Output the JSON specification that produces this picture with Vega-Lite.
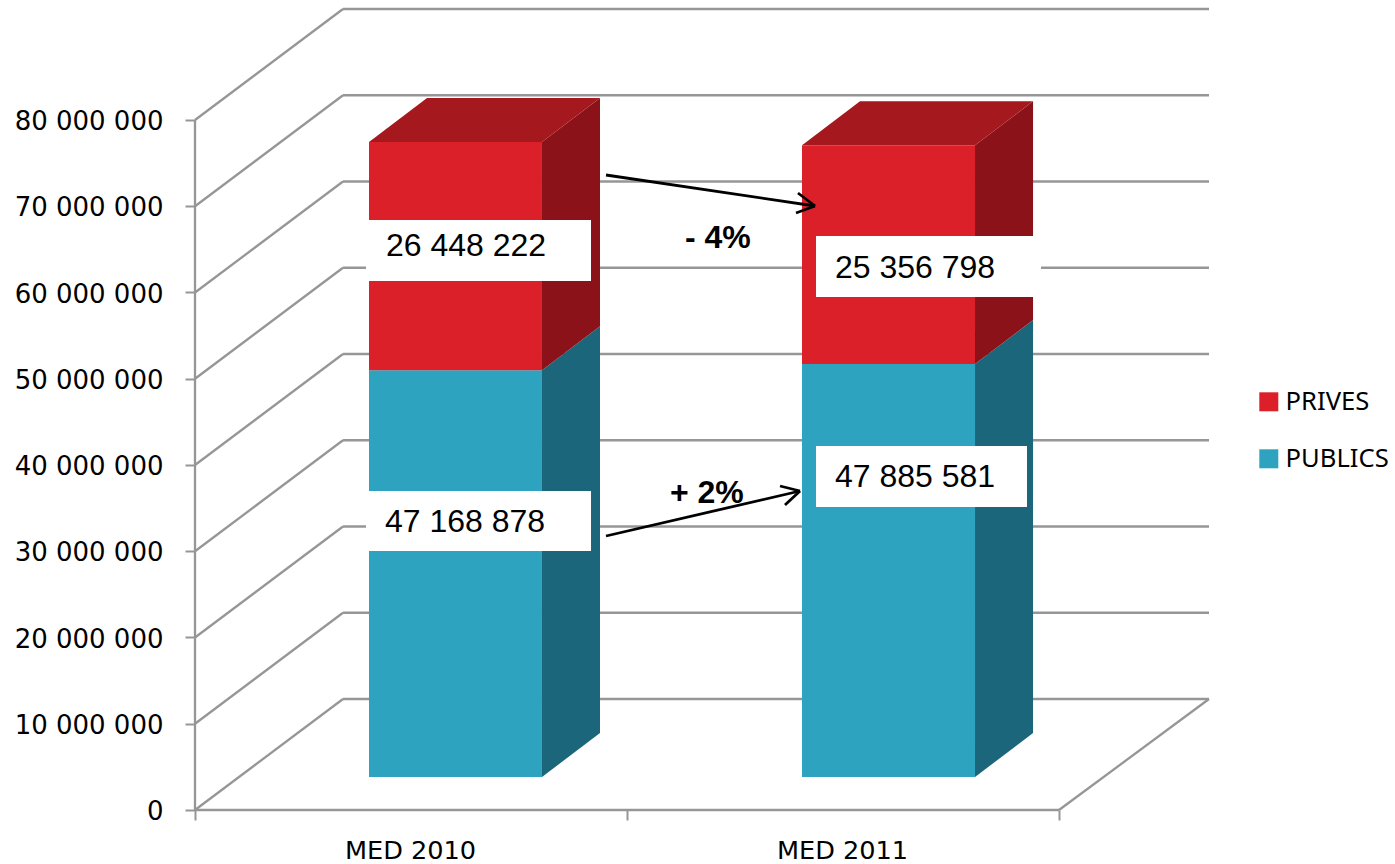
{
"$schema":"https://vega.github.io/schema/vega-lite/v6.json",
"autosize":"none",
"padding":{"left":195,"top":9,"right":186,"bottom":54},
"width":1014,"height":801,
"background":"white",
"config":{"view":{"stroke":null}},
"encoding":{
 "x":{"field":"x","type":"quantitative","title":null,"scale":{"domain":[0,2.34722],"nice":false,"zero":false},
  "axis":{"values":[0,0.5,1,1.5,2],"domain":false,"grid":false,"tickColor":"#969696","tickWidth":2,"tickSize":10,
   "tickOpacity":{"condition":{"test":"datum.value==0.5||datum.value==1.5","value":0},"value":1},
   "labelExpr":"datum.value==0.5?'MED 2010':datum.value==1.5?'MED 2011':''","labelFont":"DejaVu Sans","labelFontSize":25.6,"labelColor":"#000000","labelPadding":18,"labelOffset":-1,"labelOverlap":false,"labelFlush":false,"labelBound":false}},
 "y":{"field":"y","type":"quantitative","title":null,"scale":{"domain":[0,92869565],"nice":false,"zero":false},
  "axis":{"values":[0,10000000,20000000,30000000,40000000,50000000,60000000,70000000,80000000],"domain":false,"grid":false,"tickColor":"#969696","tickWidth":2,"tickSize":10,
   "labelExpr":"replace(format(datum.value,','),/,/g,' ')","labelFont":"DejaVu Sans","labelFontSize":26,"labelColor":"#000000","labelPadding":22,"labelOffset":1.5,"labelOverlap":false,"labelBound":false}}
},
"layer":[
 {"data":{"values":[
  {"x":0,"y":0,"x2":0.3426,"y2":12869565},{"x":0.3426,"y":12869565,"x2":2.34722,"y2":12869565},
  {"x":0,"y":10000000,"x2":0.3426,"y2":22869565},{"x":0.3426,"y":22869565,"x2":2.34722,"y2":22869565},
  {"x":0,"y":20000000,"x2":0.3426,"y2":32869565},{"x":0.3426,"y":32869565,"x2":2.34722,"y2":32869565},
  {"x":0,"y":30000000,"x2":0.3426,"y2":42869565},{"x":0.3426,"y":42869565,"x2":2.34722,"y2":42869565},
  {"x":0,"y":40000000,"x2":0.3426,"y2":52869565},{"x":0.3426,"y":52869565,"x2":2.34722,"y2":52869565},
  {"x":0,"y":50000000,"x2":0.3426,"y2":62869565},{"x":0.3426,"y":62869565,"x2":2.34722,"y2":62869565},
  {"x":0,"y":60000000,"x2":0.3426,"y2":72869565},{"x":0.3426,"y":72869565,"x2":2.34722,"y2":72869565},
  {"x":0,"y":70000000,"x2":0.3426,"y2":82869565},{"x":0.3426,"y":82869565,"x2":2.34722,"y2":82869565},
  {"x":0,"y":80000000,"x2":0.3426,"y2":92869565},{"x":0.3426,"y":92869565,"x2":2.34722,"y2":92869565},
  {"x":0,"y":0,"x2":0,"y2":80000000},{"x":0,"y":0,"x2":2,"y2":0},{"x":2,"y":0,"x2":2.34722,"y2":12869565}
  ]},
  "mark":{"type":"rule","color":"#969696","strokeWidth":2.3},
  "encoding":{"x2":{"field":"x2"},"y2":{"field":"y2"}}},
 {"data":{"values":[
  {"bar":"2010","x":0.8032,"y":3826000,"y2":50994878},{"bar":"2010","x":0.9375,"y":8927000,"y2":56095878},
  {"bar":"2011","x":1.8056,"y":3826000,"y2":51711581},{"bar":"2011","x":1.9399,"y":8927000,"y2":56812581}
  ]},
  "mark":{"type":"area","color":"#1c667c","opacity":1},
  "encoding":{"y2":{"field":"y2"},"detail":{"field":"bar"}}},
 {"data":{"values":[
  {"bar":"2010","x":0.8032,"y":50994878,"y2":77443100},{"bar":"2010","x":0.9375,"y":56095878,"y2":82544100},
  {"bar":"2011","x":1.8056,"y":51711581,"y2":77068379},{"bar":"2011","x":1.9399,"y":56812581,"y2":82169379}
  ]},
  "mark":{"type":"area","color":"#8a1218","opacity":1},
  "encoding":{"y2":{"field":"y2"},"detail":{"field":"bar"}}},
 {"data":{"values":[
  {"bar":"2010","x":0.4028,"y":77443100,"y2":77443100},{"bar":"2010","x":0.5371,"y":82544100,"y2":77443100},{"bar":"2010","x":0.8032,"y":82544100,"y2":77443100},{"bar":"2010","x":0.9375,"y":82544100,"y2":82544100},
  {"bar":"2011","x":1.4051,"y":77068379,"y2":77068379},{"bar":"2011","x":1.5394,"y":82169379,"y2":77068379},{"bar":"2011","x":1.8056,"y":82169379,"y2":77068379},{"bar":"2011","x":1.9399,"y":82169379,"y2":82169379}
  ]},
  "mark":{"type":"area","color":"#a5181e","opacity":1},
  "encoding":{"y2":{"field":"y2"},"detail":{"field":"bar"}}},
 {"data":{"values":[
  {"annee":"MED 2010","serie":"PUBLICS","value":47168878,"x":0.4028,"x2":0.8032,"y":3826000,"y2":50994878},
  {"annee":"MED 2010","serie":"PRIVES","value":26448222,"x":0.4028,"x2":0.8032,"y":50994878,"y2":77443100},
  {"annee":"MED 2011","serie":"PUBLICS","value":47885581,"x":1.4051,"x2":1.8056,"y":3826000,"y2":51711581},
  {"annee":"MED 2011","serie":"PRIVES","value":25356798,"x":1.4051,"x2":1.8056,"y":51711581,"y2":77068379}
  ]},
  "mark":{"type":"rect"},
  "encoding":{"x2":{"field":"x2"},"y2":{"field":"y2"},
   "color":{"field":"serie","type":"nominal","scale":{"domain":["PRIVES","PUBLICS"],"range":["#dc2029","#2da3c0"]},
    "legend":{"title":null,"orient":"none","legendX":1061,"legendY":380,"symbolType":"square","symbolSize":361,"symbolStrokeWidth":0,"symbolOpacity":1,"labelFont":"Noto Sans","labelFontSize":25.6,"labelColor":"#000000","labelOffset":4,"rowPadding":30,"labelLimit":200}}}},
 {"data":{"values":[
  {"x":0.3958,"x2":0.9167,"y":61333000,"y2":68406000},
  {"x":0.3958,"x2":0.9167,"y":30029000,"y2":36986000},
  {"x":1.4375,"x2":1.9583,"y":59478000,"y2":66551000},
  {"x":1.4375,"x2":1.9259,"y":35130000,"y2":42203000}
  ]},
  "mark":{"type":"rect","color":"#ffffff"},
  "encoding":{"x2":{"field":"x2"},"y2":{"field":"y2"}}},
 {"data":{"values":[
  {"x":0.9514,"y":73623000,"x2":1.4352,"y2":70029000},
  {"x":1.3958,"y":71536000,"x2":1.4352,"y2":70029000},
  {"x":1.3912,"y":69217000,"x2":1.4352,"y2":70029000},
  {"x":0.9514,"y":31768000,"x2":1.4005,"y2":36986000},
  {"x":1.3542,"y":37565000,"x2":1.4005,"y2":36986000},
  {"x":1.3657,"y":35362000,"x2":1.4005,"y2":36986000}
  ]},
  "mark":{"type":"rule","color":"#000000","strokeWidth":2.8},
  "encoding":{"x2":{"field":"x2"},"y2":{"field":"y2"}}},
 {"data":{"values":[
  {"x":0.4421,"y":65432000,"t":"26 448 222"},
  {"x":0.4398,"y":33392000,"t":"47 168 878"},
  {"x":1.4815,"y":62840000,"t":"25 356 798"},
  {"x":1.4815,"y":38609000,"t":"47 885 581"}
  ]},
  "mark":{"type":"text","align":"left","baseline":"middle","font":"Liberation Sans","fontSize":32,"color":"#000000"},
  "encoding":{"text":{"field":"t"}}},
 {"data":{"values":[
  {"x":1.1343,"y":66319000,"t":"- 4%"},
  {"x":1.0995,"y":36754000,"t":"+ 2%"}
  ]},
  "mark":{"type":"text","align":"left","baseline":"middle","font":"Liberation Sans","fontSize":32,"fontWeight":"bold","color":"#000000"},
  "encoding":{"text":{"field":"t"}}}
]
}
